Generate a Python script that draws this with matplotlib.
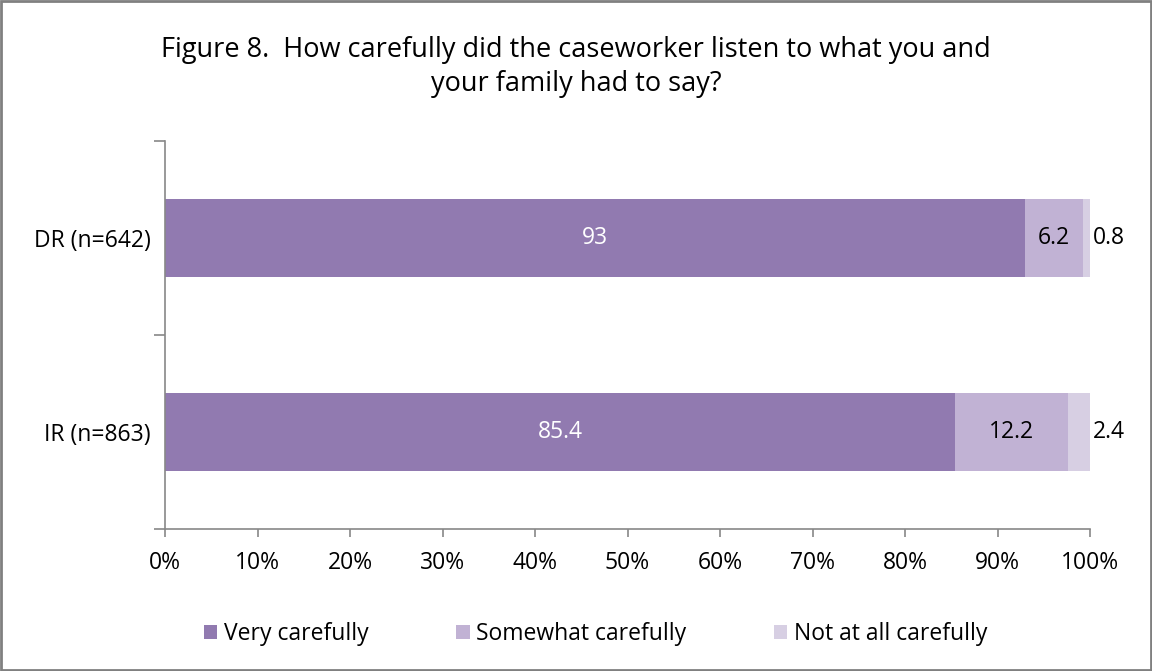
import numpy as np
import matplotlib
matplotlib.use("Agg")
import matplotlib.pyplot as plt
from matplotlib.patches import Rectangle

categories = ["DR (n=642)", "IR (n=863)"]
series_names = ["Very carefully", "Somewhat carefully", "Not at all carefully"]
very = [93.0, 85.4]
somewhat = [6.2, 12.2]
not_at_all = [0.8, 2.4]
colors = ["#917ab0", "#c1b2d4", "#d7cfe3"]
xticks = [0, 10, 20, 30, 40, 50, 60, 70, 80, 90, 100]

plt.rcParams["font.family"] = ["Open Sans", "DejaVu Sans"]
fs = 16.5

fig = plt.figure(figsize=(11.52, 6.71), dpi=100)
ax = fig.add_axes([165 / 1152, 1 - 529 / 671, (1090 - 165) / 1152, (529 - 141) / 671])

# categories top to bottom: DR at top
ypos = [1.5, 0.5]
h = 0.4
left = np.zeros(2)
for vals, col, name in zip([very, somewhat, not_at_all], colors, series_names):
    ax.barh(ypos, vals, left=left, height=h, color=col, label=name)
    left += np.array(vals)

# value labels
for i, y in enumerate(ypos):
    ax.text(very[i] / 2, y, f"{very[i]:g}", ha="center", va="center",
            color="white", fontsize=fs)
    ax.text(very[i] + somewhat[i] / 2, y, f"{somewhat[i]:g}", ha="center",
            va="center", color="black", fontsize=fs)
    ax.text(100 + 0.3, y, f"{not_at_all[i]:g}", ha="left", va="center",
            color="black", fontsize=fs)

ax.set_xlim(0, 100)
ax.set_ylim(0, 2)
ax.set_xticks(xticks)
ax.set_xticklabels([f"{t}%" for t in xticks], fontsize=fs)
ax.set_yticks([0, 1, 2])
ax.set_yticklabels([])
ax.set_yticks(ypos, minor=True)
ax.set_yticklabels(categories, minor=True, fontsize=fs)
ax.tick_params(axis="y", which="minor", length=0, pad=10)
ax.tick_params(axis="y", which="major", length=8, width=1.2, color="#888888")
ax.tick_params(axis="x", length=6, width=1.2, color="#888888", pad=10)
for s in ["top", "right"]:
    ax.spines[s].set_visible(False)
for s in ["left", "bottom"]:
    ax.spines[s].set_color("#888888")
    ax.spines[s].set_linewidth(1.2)

fig.suptitle("Figure 8.  How carefully did the caseworker listen to what you and\nyour family had to say?",
             fontsize=19.5, y=0.947, x=0.5, linespacing=1.3)

fig.legend(loc="center", bbox_to_anchor=(0.517, 0.055), ncol=3, frameon=False,
           fontsize=fs, handlelength=0.6, handleheight=0.6, handletextpad=0.3,
           columnspacing=3.8)

fig.patches.append(Rectangle((0.001, 0.001), 0.998, 0.997, transform=fig.transFigure,
                             fill=False, edgecolor="#808080", linewidth=2))

fig.savefig("out.png", dpi=100)
